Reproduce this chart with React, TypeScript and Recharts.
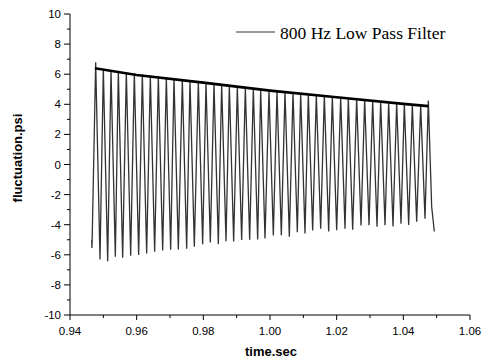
import React from 'react';
import { LineChart, Line, XAxis, YAxis, Legend } from 'recharts';

// ---- data ----
const peakTimes = [
  0.9477, 0.9500, 0.9523, 0.9545, 0.9569, 0.9593, 0.9617, 0.9641, 0.9665, 0.9689,
  0.9712, 0.9737, 0.9760, 0.9785, 0.9808, 0.9832, 0.9855, 0.9878, 0.9902, 0.9926,
  0.9950, 0.9972, 0.9997, 1.0021, 1.0045, 1.0069, 1.0092, 1.0115, 1.0139, 1.0163,
  1.0187, 1.0212, 1.0235, 1.0260, 1.0284, 1.0308, 1.0332, 1.0356, 1.0380, 1.0403,
  1.0427, 1.0452, 1.0475,
];
const peakValues = [
  6.80, 6.32, 6.28, 6.22, 6.15, 6.06, 5.98, 5.92, 5.85, 5.78,
  5.72, 5.64, 5.58, 5.52, 5.45, 5.38, 5.33, 5.26, 5.18, 5.12,
  5.05, 4.99, 4.93, 4.88, 4.83, 4.78, 4.74, 4.69, 4.63, 4.58,
  4.52, 4.47, 4.42, 4.36, 4.30, 4.24, 4.19, 4.14, 4.09, 4.04,
  3.99, 3.93, 4.25,
];
const troughTimes = [
  0.9490, 0.9513, 0.9536, 0.9558, 0.9582, 0.9606, 0.9630, 0.9654, 0.9678, 0.9702,
  0.9725, 0.9750, 0.9773, 0.9798, 0.9821, 0.9845, 0.9868, 0.9891, 0.9915, 0.9939,
  0.9963, 0.9985, 1.0010, 1.0034, 1.0058, 1.0082, 1.0105, 1.0128, 1.0152, 1.0176,
  1.0200, 1.0225, 1.0248, 1.0273, 1.0297, 1.0321, 1.0345, 1.0369, 1.0393, 1.0416,
  1.0440, 1.0465,
];
const troughValues = [
  -6.31, -6.42, -6.13, -6.20, -6.07, -6.02, -5.91, -5.80, -5.72, -5.66,
  -5.64, -5.60, -5.47, -5.30, -5.18, -5.30, -5.10, -5.12, -5.02, -5.00,
  -4.98, -4.91, -4.72, -4.70, -4.80, -4.50, -4.58, -4.38, -4.27, -4.45,
  -4.36, -4.26, -4.34, -4.05, -4.04, -4.14, -4.04, -4.12, -3.93, -4.02,
  -3.80, -3.60,
];
const leadTimes = [0.9465, 0.9466];
const leadValues = [-5.0, -5.55];
const tailTimes = [1.0485, 1.0493];
const tailValues = [-2.8, -4.45];

const envelopeTimes = [0.9475, 0.96, 0.98, 1.0, 1.02, 1.04, 1.0475];
const envelopeValues = [6.4, 5.95, 5.44, 4.91, 4.47, 4.03, 3.88];

const xTicks = [0.94, 0.95, 0.96, 0.97, 0.98, 0.99, 1.0, 1.01, 1.02, 1.03, 1.04, 1.05, 1.06];
const xLabelTicks = [0.94, 0.96, 0.98, 1.0, 1.02, 1.04, 1.06];
const yTicks = [-10, -9, -8, -7, -6, -5, -4, -3, -2, -1, 0, 1, 2, 3, 4, 5, 6, 7, 8, 9, 10];
const yLabelTicks = [-10, -8, -6, -4, -2, 0, 2, 4, 6, 8, 10];

const seriesName = '800 Hz Low Pass Filter';
const xTitle = 'time.sec';
const yTitle = 'fluctuation.psi';

// ---- build series ----
const signal: { t: number; v: number }[] = [];
leadTimes.forEach((t, i) => signal.push({ t, v: leadValues[i] }));
peakTimes.forEach((t, i) => {
  signal.push({ t, v: peakValues[i] });
  if (i < troughTimes.length) signal.push({ t: troughTimes[i], v: troughValues[i] });
});
tailTimes.forEach((t, i) => signal.push({ t, v: tailValues[i] }));

const envelope = envelopeTimes.map((t, i) => ({ t, v: envelopeValues[i] }));

const SANS = '"Liberation Sans", Arial, sans-serif';
const SERIF = '"Liberation Serif", "Times New Roman", serif';

const XTick = (props: any) => {
  const { x, y, payload } = props;
  const v = payload.value;
  const labelled = xLabelTicks.some((k) => Math.abs(k - v) < 1e-6);
  return (
    <g>
      <line x1={x} x2={x} y1={y} y2={y + (labelled ? 5 : 3)} stroke="#000" strokeWidth={1} />
      {labelled && (
        <text x={x} y={y + 20} textAnchor="middle" fontSize={11.5} fontFamily={SANS} fill="#000">
          {v.toFixed(2)}
        </text>
      )}
    </g>
  );
};

const YTick = (props: any) => {
  const { x, y, payload } = props;
  const v = payload.value;
  const labelled = yLabelTicks.includes(v);
  return (
    <g>
      <line x1={x} x2={x - (labelled ? 6 : 3)} y1={y} y2={y} stroke="#000" strokeWidth={1} />
      {labelled && (
        <text x={x - 9} y={y + 4} textAnchor="end" fontSize={11.5} fontFamily={SANS} fill="#000">
          {String(v)}
        </text>
      )}
    </g>
  );
};

const LegendContent = () => (
  <svg width={240} height={30} style={{ display: 'block' }}>
    <line x1={6} x2={45} y1={14} y2={14} stroke="#333" strokeWidth={1} />
    <text x={50} y={21} fontSize={17.5} fontFamily={SERIF} fill="#000">
      {seriesName}
    </text>
  </svg>
);

export default function App() {
  return (
    <div style={{ position: 'absolute', left: 0, top: 0, width: 489, height: 359, background: '#fff' }}>
      <LineChart width={489} height={359} margin={{ top: 14, right: 19, bottom: 14, left: 25 }}>
        <XAxis
          dataKey="t"
          type="number"
          domain={[0.94, 1.06]}
          ticks={xTicks}
          interval={0}
          allowDataOverflow
          height={30}
          tickSize={0}
          tickMargin={0}
          tickLine={false}
          axisLine={{ stroke: '#000', strokeWidth: 1 }}
          tick={<XTick />}
          label={{
            content: () => (
              <text x={271} y={356} textAnchor="middle" fontSize={13} fontWeight="bold" fontFamily={SANS} fill="#000">
                {xTitle}
              </text>
            ),
          }}
        />
        <YAxis
          dataKey="v"
          type="number"
          domain={[-10, 10]}
          ticks={yTicks}
          interval={0}
          allowDataOverflow
          width={45}
          tickSize={0}
          tickMargin={0}
          tickLine={false}
          axisLine={{ stroke: '#000', strokeWidth: 1 }}
          tick={<YTick />}
          label={{
            content: () => (
              <text
                x={22}
                y={158}
                transform="rotate(-90 22 158)"
                textAnchor="middle"
                fontSize={13}
                fontWeight="bold"
                fontFamily={SANS}
                fill="#000"
              >
                {yTitle}
              </text>
            ),
          }}
        />
        <Legend
          layout="horizontal"
          verticalAlign="middle"
          align="center"
          content={<LegendContent />}
          wrapperStyle={{ position: 'absolute', left: 230, top: 18, width: 240, height: 30 }}
        />
        <Line
          data={signal}
          dataKey="v"
          type="linear"
          stroke="#333"
          strokeWidth={1.3}
          dot={false}
          activeDot={false}
          isAnimationActive={false}
          name={seriesName}
        />
        <Line
          data={envelope}
          dataKey="v"
          type="linear"
          stroke="#000"
          strokeWidth={2.6}
          dot={false}
          activeDot={false}
          isAnimationActive={false}
          legendType="none"
        />
      </LineChart>
    </div>
  );
}
